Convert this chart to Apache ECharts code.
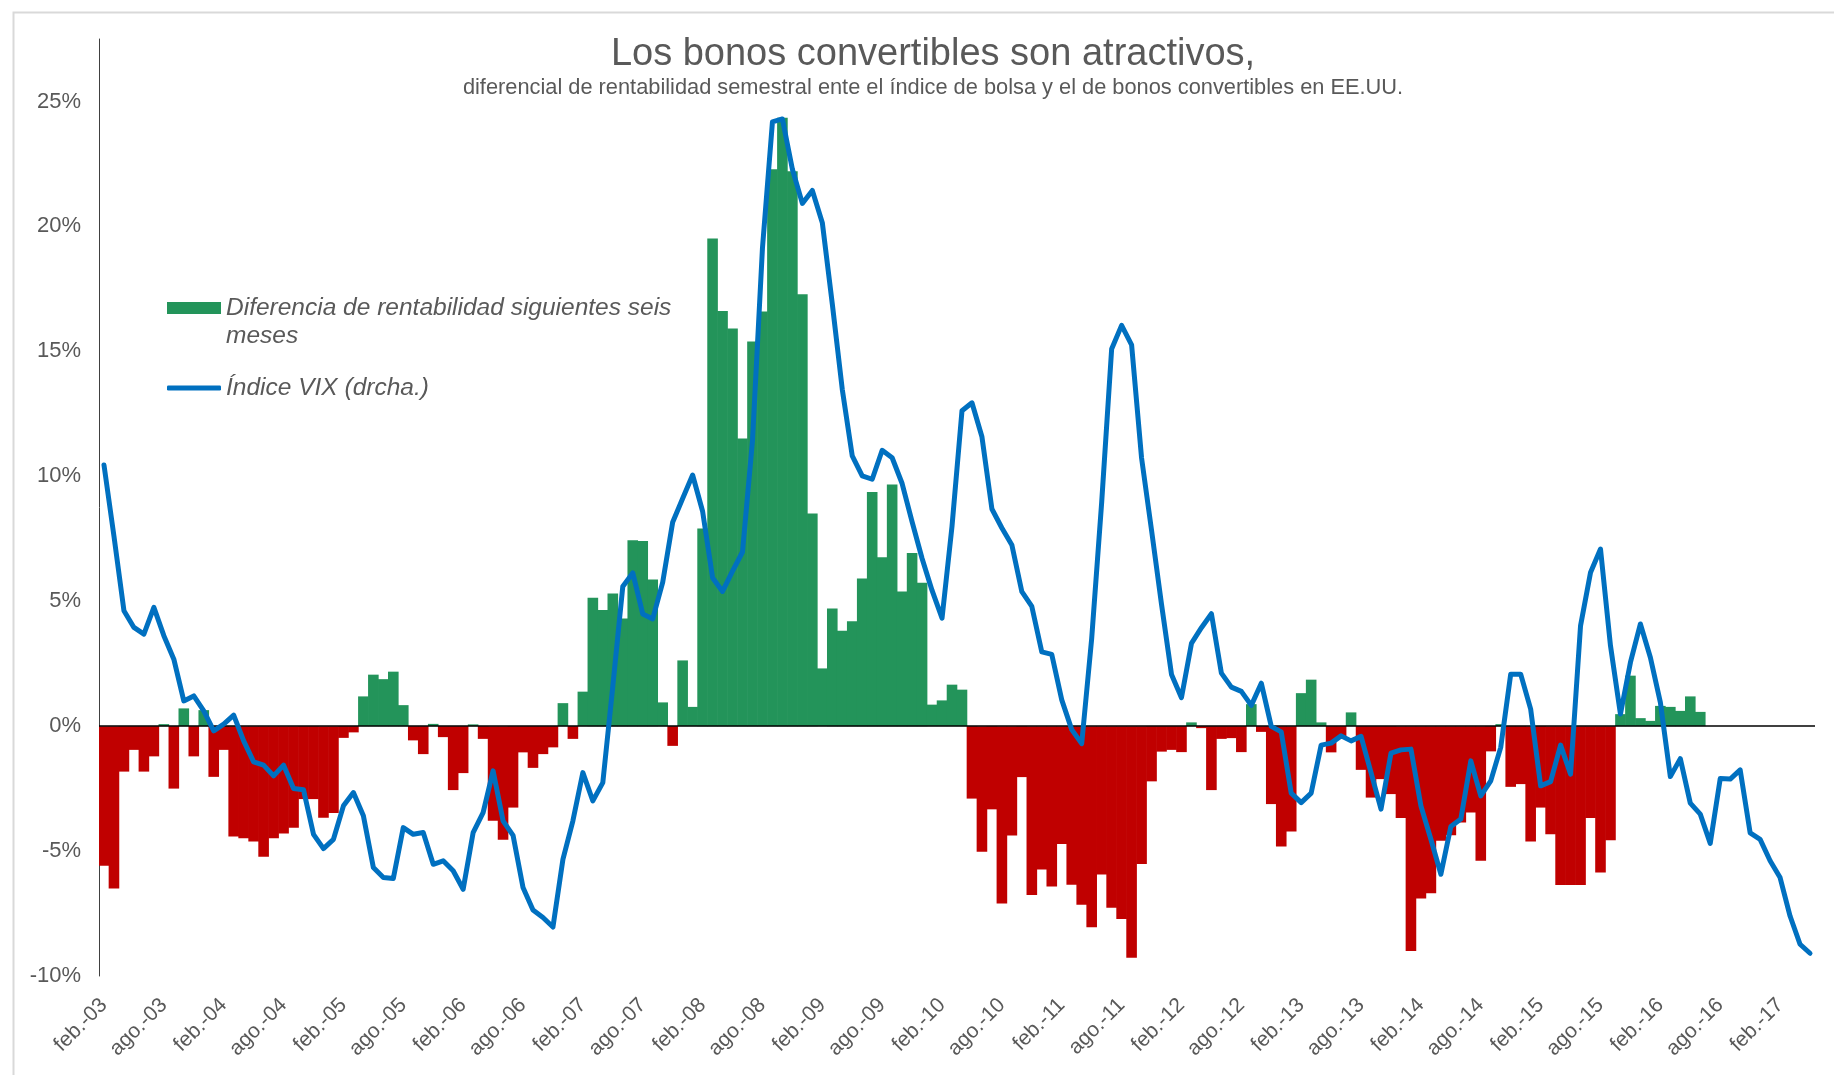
<!DOCTYPE html>
<html lang="es">
<head>
<meta charset="UTF-8" />
<title>Los bonos convertibles son atractivos</title>
<script src="https://cdn.jsdelivr.net/npm/echarts@6/dist/echarts.min.js"></script>
<style>
  html, body { margin: 0; padding: 0; background: #fff; }
  #chart { width: 1834px; height: 1075px; }
</style>
</head>
<body>
<div id="chart"></div>
<script>
// categorías mensuales: feb.-03 ... may.-17
const nombresMes = ["ene.", "feb.", "mar.", "abr.", "may.", "jun.", "jul.", "ago.", "sep.", "oct.", "nov.", "dic."];
const anioInicio = 2003;
const mesInicio = 1; // feb.
const numMeses = 172;
const meses = [];
for (let i = 0; i < numMeses; i++) {
  const n = mesInicio + i;
  meses.push(nombresMes[n % 12] + "-" + String((anioInicio + Math.floor(n / 12)) % 100).padStart(2, "0"));
}

// diferencia de rentabilidad siguientes seis meses (%), feb.-03 ... jun.-16
const diferencia = [
  -5.59, -6.50, -1.82, -0.95, -1.82, -1.21, 0.08, -2.50, 0.71, -1.21,
  0.64, -2.03, -0.95, -4.42, -4.49, -4.62, -5.23, -4.49, -4.30, -4.07,
  -2.92, -2.92, -3.67, -3.48, -0.47, -0.25, 1.19, 2.06, 1.88, 2.18,
  0.84, -0.57, -1.12, 0.09, -0.44, -2.56, -1.88, 0.07, -0.51, -3.79,
  -4.55, -3.26, -1.05, -1.67, -1.12, -0.85, 0.92, -0.51, 1.38, 5.14,
  4.65, 5.31, 4.31, 7.44, 7.41, 5.87, 0.95, -0.79, 2.63, 0.77,
  7.91, 19.52, 16.61, 15.91, 11.51, 15.39, 16.59, 22.29, 24.35, 22.21,
  17.28, 8.51, 2.31, 4.71, 3.82, 4.20, 5.91, 9.37, 6.76, 9.67,
  5.39, 6.93, 5.74, 0.86, 1.03, 1.66, 1.46, -2.90, -5.03, -3.33,
  -7.10, -4.38, -2.04, -6.76, -5.74, -6.42, -4.72, -6.35, -7.15, -8.05,
  -5.94, -7.27, -7.72, -9.27, -5.52, -2.21, -1.02, -0.95, -1.04, 0.15,
  -0.08, -2.56, -0.51, -0.48, -1.04, 0.88, -0.23, -3.12, -4.82, -4.22,
  1.32, 1.86, 0.15, -1.05, -0.45, 0.55, -1.75, -2.86, -2.12, -2.72,
  -3.68, -9.00, -6.90, -6.69, -4.59, -4.37, -3.86, -3.46, -5.39, -1.01,
  0.08, -2.43, -2.32, -4.62, -3.26, -4.33, -6.36, -6.36, -6.36, -3.68,
  -5.86, -4.57, 0.48, 2.02, 0.32, 0.21, 0.81, 0.77, 0.61, 1.19,
  0.57
];

const vix = [
  10.45, 7.60, 4.62, 3.95, 3.68, 4.75, 3.62, 2.68, 1.01, 1.21,
  0.61, -0.19, 0.08, 0.44, -0.59, -1.43, -1.56, -1.99, -1.56, -2.50,
  -2.55, -4.33, -4.90, -4.53, -3.19, -2.66, -3.59, -5.66, -6.06, -6.10,
  -4.06, -4.33, -4.26, -5.53, -5.39, -5.79, -6.53, -4.26, -3.46, -1.79,
  -3.79, -4.37, -6.46, -7.36, -7.66, -8.04, -5.33, -3.79, -1.86, -2.99,
  -2.26, 1.60, 5.59, 6.13, 4.49, 4.29, 5.75, 8.16, 9.11, 10.05,
  8.60, 5.94, 5.39, 6.20, 6.97, 11.42, 19.13, 24.18, 24.30, 22.29,
  20.92, 21.44, 20.15, 16.90, 13.48, 10.82, 10.02, 9.88, 11.04, 10.74,
  9.71, 8.17, 6.71, 5.43, 4.32, 8.00, 12.62, 12.94, 11.58, 8.69,
  7.93, 7.25, 5.38, 4.79, 2.97, 2.87, 1.05, -0.14, -0.70, 3.51,
  8.95, 15.09, 16.04, 15.26, 10.73, 7.84, 4.87, 2.07, 1.14, 3.31,
  3.94, 4.50, 2.12, 1.56, 1.39, 0.83, 1.72, -0.01, -0.23, -2.68,
  -3.06, -2.68, -0.76, -0.68, -0.39, -0.59, -0.41, -1.86, -3.32, -1.08,
  -0.95, -0.92, -3.19, -4.53, -5.93, -4.02, -3.72, -1.39, -2.79, -2.19,
  -0.85, 2.08, 2.08, 0.68, -2.39, -2.22, -0.76, -1.92, 4.02, 6.15,
  7.09, 3.22, 0.48, 2.55, 4.09, 2.75, 0.95, -2.02, -1.30, -3.08,
  -3.52, -4.69, -2.10, -2.12, -1.75, -4.27, -4.53, -5.39, -6.06, -7.60,
  -8.73, -9.09
];

// eje vertical
const yMin = -10;
const yMax = 27.5;
const yPaso = 5;

const nombreBarras = "Diferencia de rentabilidad siguientes seis meses";
const nombreLinea = "Índice VIX (drcha.)";

const verde = "#23945a";
const rojo = "#c00000";
const azul = "#0070c0";
const gris = "#595959";
const fuente = "Liberation Sans, Arial, sans-serif";

var chart = echarts.init(document.getElementById("chart"));

var option = {
  animation: false,
  backgroundColor: "#fff",
  textStyle: { fontFamily: fuente },
  graphic: [
    {
      type: "rect",
      left: 11,
      top: 10,
      silent: true,
      z: -10,
      shape: { width: 1900, height: 1200 },
      style: { fill: "none", stroke: "#d9d9d9", lineWidth: 2 }
    }
  ],
  title: {
    text: "Los bonos convertibles son atractivos,",
    subtext: "diferencial de rentabilidad semestral ente el índice de bolsa y el de bonos convertibles en EE.UU.",
    left: 933,
    top: 33,
    textAlign: "center",
    padding: 0,
    itemGap: -2,
    textStyle: { fontFamily: fuente, fontSize: 38, fontWeight: "normal", color: gris, lineHeight: 44 },
    subtextStyle: { fontFamily: fuente, fontSize: 21.8, color: gris, lineHeight: 26 }
  },
  legend: [
    {
      // línea vacía arriba para que el icono quede a la altura de la primera línea
      data: [{ name: nombreBarras, itemStyle: { color: verde } }],
      left: 167,
      top: 266,
      padding: 0,
      icon: "rect",
      itemWidth: 54,
      itemHeight: 12,
      selectedMode: false,
      formatter: function (name) {
        return "\n" + name.replace(" meses", "\nmeses");
      },
      textStyle: { fontFamily: fuente, fontSize: 24.5, fontStyle: "italic", color: gris, lineHeight: 28 }
    },
    {
      data: [{ name: nombreLinea, itemStyle: { color: azul } }],
      left: 167,
      top: 374,
      padding: 0,
      icon: "roundRect",
      itemWidth: 54,
      itemHeight: 5,
      selectedMode: false,
      textStyle: { fontFamily: fuente, fontSize: 24.5, fontStyle: "italic", color: gris, lineHeight: 28 }
    }
  ],
  grid: { left: 99, right: 19, top: 39, bottom: 99, containLabel: false },
  xAxis: {
    type: "category",
    data: meses,
    boundaryGap: true,
    axisLine: { show: false, onZero: false },
    axisTick: { show: false },
    axisLabel: {
      interval: 5,
      rotate: 45,
      margin: 26,
      color: gris,
      fontFamily: fuente,
      fontSize: 21
    }
  },
  yAxis: [
    {
      type: "value",
      min: yMin,
      max: yMax,
      interval: yPaso,
      axisLine: { show: true, lineStyle: { color: "#404040", width: 1 } },
      axisTick: { show: false },
      splitLine: { show: false },
      axisLabel: {
        margin: 18,
        color: gris,
        fontFamily: fuente,
        fontSize: 22,
        showMaxLabel: false,
        formatter: function (v) {
          return v % yPaso === 0 ? v + "%" : "";
        }
      }
    },
    {
      type: "value",
      min: yMin,
      max: yMax,
      interval: yPaso,
      show: false,
      splitLine: { show: false }
    }
  ],
  series: [
    {
      name: nombreBarras,
      type: "bar",
      data: diferencia,
      barWidth: 10.6,
      itemStyle: {
        color: function (p) {
          return p.value >= 0 ? verde : rojo;
        }
      },
      emphasis: { disabled: true },
      markLine: {
        silent: true,
        symbol: ["none", "none"],
        label: { show: false },
        lineStyle: { color: "#000", width: 1.5, type: "solid" },
        data: [{ yAxis: 0 }]
      }
    },
    {
      name: nombreLinea,
      type: "line",
      yAxisIndex: 1,
      data: vix,
      symbol: "none",
      smooth: false,
      z: 5,
      lineStyle: { color: azul, width: 5, cap: "round", join: "round" },
      itemStyle: { color: azul },
      emphasis: { disabled: true }
    }
  ]
};

option && chart.setOption(option);
</script>
</body>
</html>
